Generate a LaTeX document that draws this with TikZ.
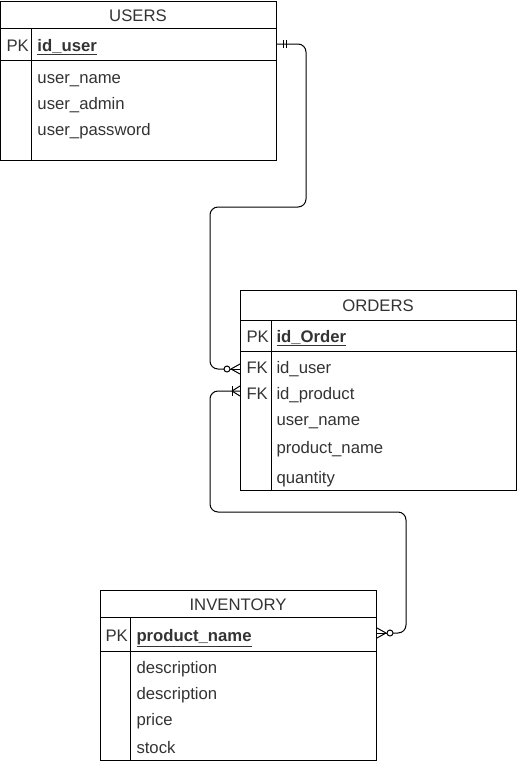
\documentclass[tikz,border=0pt]{standalone}
\usepackage{fontspec}
\setmainfont{Liberation Sans}
\begin{document}
\begin{tikzpicture}[x=1pt,y=-1pt,line width=1pt,
  tbl/.style={draw,anchor=north west,inner sep=0pt},
  fld/.style={anchor=base west,inner sep=0pt,font=\fontsize{16.7}{20}\selectfont,text=black!80},
  key/.style={fld,font=\fontsize{16.7}{20}\selectfont\bfseries},
  ttl/.style={anchor=base,inner sep=0pt,font=\fontsize{16.7}{20}\selectfont,text=black!80},
  conn/.style={draw,line width=1pt,rounded corners=8pt}]
\useasboundingbox (0,0) rectangle (517,764);
% USERS
\node[tbl,minimum width=276pt,minimum height=159pt] (users) at (0,1) {};
\draw (0,28) -- (276,28);
\draw (0,60) -- (276,60);
\draw (31,28) -- (31,160);
\node[ttl] (usersT) at (138,21) {USERS};
\node[fld] (upk) at (6,51) {PK};
\node[key] (uid) at (37,51) {\underline{id\_user}};
\node[fld] (un) at (37,83) {user\_name};
\node[fld] (ua) at (37,109) {user\_admin};
\node[fld] (up) at (37,135) {user\_password};
% ORDERS
\node[tbl,minimum width=276pt,minimum height=200pt] (orders) at (240,290) {};
\draw (240,320) -- (516,320);
\draw (240,351) -- (516,351);
\draw (271,320) -- (271,490);
\node[ttl] (ordersT) at (378,311) {ORDERS};
\node[fld] (opk) at (246,342) {PK};
\node[key] (oid) at (276,342) {\underline{id\_Order}};
\node[fld] (ofk1) at (246,373) {FK};
\node[fld] (ouid) at (276,373) {id\_user};
\node[fld] (ofk2) at (246,399) {FK};
\node[fld] (opid) at (276,399) {id\_product};
\node[fld] (oun) at (276,425) {user\_name};
\node[fld] (opn) at (276,453) {product\_name};
\node[fld] (oq) at (276,483) {quantity};
% INVENTORY
\node[tbl,minimum width=276pt,minimum height=170pt] (inv) at (100,590) {};
\draw (100,617) -- (376,617);
\draw (100,651) -- (376,651);
\draw (130,617) -- (130,760);
\node[ttl] (invT) at (238,610) {INVENTORY};
\node[fld] (ipk) at (105,641) {PK};
\node[key] (ipn) at (136,641) {\underline{product\_name}};
\node[fld] (id1) at (136,673) {description};
\node[fld] (id2) at (136,699) {description};
\node[fld] (ipr) at (136,725) {price};
\node[fld] (ist) at (136,753) {stock};
% connector 1: USERS.id_user -> ORDERS.id_user
\coordinate (c1s) at (users.east |- 0,44);
\coordinate (c1e) at (orders.west |- 0,369);
\draw[conn] (c1s) -- (306,44) -- (306,207) -- (210,207) -- (210,369) -- ([xshift=-16pt]c1e);
\draw ([xshift=6pt]c1s) ++(0,-4) -- ++(0,8);
\draw ([xshift=9pt]c1s) ++(0,-4) -- ++(0,8);
\draw ([xshift=-13pt]c1e) circle (3pt);
\draw ([xshift=-10pt]c1e) -- (c1e);
\draw ([xshift=-9pt]c1e) -- ([yshift=-5pt]c1e);
\draw ([xshift=-9pt]c1e) -- ([yshift=5pt]c1e);
% connector 2: ORDERS.id_product -> INVENTORY.product_name
\coordinate (c2s) at (orders.west |- 0,391);
\coordinate (c2e) at (inv.east |- 0,633);
\draw[conn] (c2s) -- (210,391) -- (210,512) -- (406,512) -- (406,633) -- ([xshift=16pt]c2e);
\draw ([xshift=-8pt]c2s) ++(0,-5) -- ++(0,10);
\draw ([xshift=-8pt]c2s) -- ([yshift=-5pt]c2s);
\draw ([xshift=-8pt]c2s) -- ([yshift=5pt]c2s);
\draw ([xshift=13pt]c2e) circle (3pt);
\draw ([xshift=10pt]c2e) -- (c2e);
\draw ([xshift=9pt]c2e) -- ([yshift=-5pt]c2e);
\draw ([xshift=9pt]c2e) -- ([yshift=5pt]c2e);
\end{tikzpicture}
\end{document}
